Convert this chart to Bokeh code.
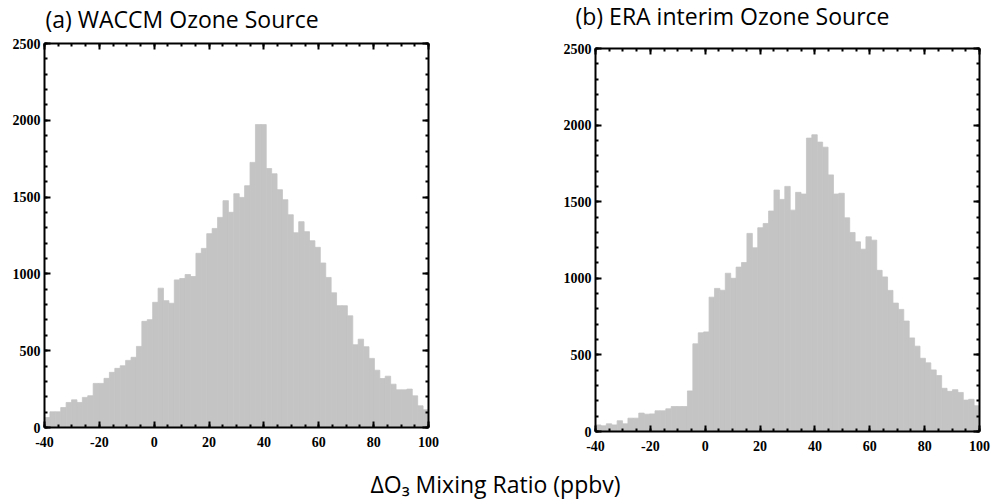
import numpy as np
from bokeh.plotting import figure
from bokeh.models import Range1d, LinearAxis, Label, FixedTicker, CustomJSTickFormatter
from bokeh.layouts import column, row
from bokeh.embed import file_html
from bokeh.resources import INLINE

# ---------------- data ----------------
x_min, x_max = -40, 100
y_min, y_max = 0, 2500
x_ticks = [-40, -20, 0, 20, 40, 60, 80, 100]
x_minor = list(range(-40, 101, 5))
y_ticks = [0, 500, 1000, 1500, 2000, 2500]
y_minor = list(range(0, 2501, 100))

waccm_counts = [65, 102, 102, 130, 163, 180, 163, 196, 207, 287,
                287, 320, 359, 385, 402, 437, 457, 528, 691, 702,
                815, 907, 826, 809, 961, 970, 996, 983, 1134, 1166,
                1262, 1296, 1368, 1477, 1401, 1522, 1498, 1574, 1726, 1972,
                1972, 1686, 1652, 1548, 1483, 1385, 1268, 1340, 1275, 1216,
                1173, 1071, 977, 877, 793, 793, 727, 539, 575, 526,
                450, 373, 319, 334, 282, 245, 245, 250, 206, 141,
                115]
era_counts = [43, 37, 50, 43, 70, 50, 87, 87, 120, 113,
              115, 135, 135, 148, 163, 163, 163, 265, 572, 644,
              650, 877, 934, 922, 1033, 1000, 1073, 1103, 1293, 1199,
              1330, 1358, 1439, 1576, 1515, 1600, 1445, 1561, 1550, 1915,
              1937, 1889, 1856, 1675, 1550, 1555, 1395, 1299, 1238, 1190,
              1271, 1249, 1052, 1009, 921, 838, 797, 721, 611, 557,
              478, 448, 402, 365, 282, 262, 273, 255, 205, 210,
              168]
titles = ["(a) WACCM Ozone Source", "(b) ERA interim Ozone Source"]
x_label = "ΔO₃ Mixing Ratio (ppbv)"

BAR = "#c4c4c4"
TICK_FONT = "Liberation Serif"
TEXT_FONT = "Open Sans"
TEXT_SIZE = "23px"


def style_axis(ax, ticks, minor, show_labels, standoff):
    ax.ticker = FixedTicker(ticks=ticks, minor_ticks=minor)
    ax.axis_line_width = 2
    ax.axis_line_color = "black"
    ax.major_tick_in = 6
    ax.major_tick_out = 0
    ax.minor_tick_in = 3
    ax.minor_tick_out = 0
    ax.major_tick_line_width = 2
    ax.minor_tick_line_width = 2
    ax.major_tick_line_color = "black"
    ax.minor_tick_line_color = "black"
    ax.major_label_text_font = TICK_FONT
    ax.major_label_text_font_style = "bold"
    ax.major_label_text_color = "black"
    ax.major_label_standoff = standoff
    if show_labels:
        ax.major_label_text_font_size = "14px"
        ax.formatter = CustomJSTickFormatter(code="return tick.toFixed(0)")
    else:
        ax.major_label_text_font_size = "0px"
        ax.formatter = CustomJSTickFormatter(code="return ''")


def make_panel(counts, w, h, bl, br, bt, bb):
    edges = np.linspace(x_min, x_max, len(counts) + 1)
    p = figure(width=w, height=h, x_range=Range1d(x_min, x_max),
               y_range=Range1d(y_min, y_max), output_backend="svg",
               toolbar_location=None, min_border_left=bl, min_border_right=br,
               min_border_top=bt, min_border_bottom=bb, outline_line_color=None)
    p.quad(left=edges[:-1], right=edges[1:], bottom=0, top=counts,
           fill_color=BAR, line_color=BAR, line_width=0.8)
    p.grid.visible = False
    style_axis(p.xaxis[0], x_ticks, x_minor, True, 9)
    style_axis(p.yaxis[0], y_ticks, y_minor, True, 4)
    top = LinearAxis()
    style_axis(top, x_ticks, x_minor, False, 0)
    p.add_layout(top, "above")
    right = LinearAxis()
    style_axis(right, y_ticks, y_minor, False, 0)
    p.add_layout(right, "right")
    return p


def text_strip(h, items):
    s = figure(width=1000, height=h, x_range=Range1d(0, 1000), y_range=Range1d(0, h),
               output_backend="svg", toolbar_location=None, x_axis_type=None,
               y_axis_type=None, min_border=0, outline_line_color=None)
    s.grid.visible = False
    for (x, y, txt, align) in items:
        s.add_layout(Label(x=x, y=y, text=txt, text_font=TEXT_FONT,
                           text_font_size=TEXT_SIZE, text_baseline="alphabetic",
                           text_align=align, text_color="black"))
    return s


top_strip = text_strip(36, [(45, 17.5, titles[0], "left"), (575, 20.5, titles[1], "left")])
p1 = make_panel(waccm_counts, 500, 429, 44, 72, 7, 38)
p2 = make_panel(era_counts, 500, 429, 95, 21, 12, 34)
bottom_strip = text_strip(39, [(495, 21, x_label, "center")])

layout = column(top_strip, row(column(p1), column(p2)), bottom_strip)
open("out.html", "w").write(file_html(layout, INLINE))
